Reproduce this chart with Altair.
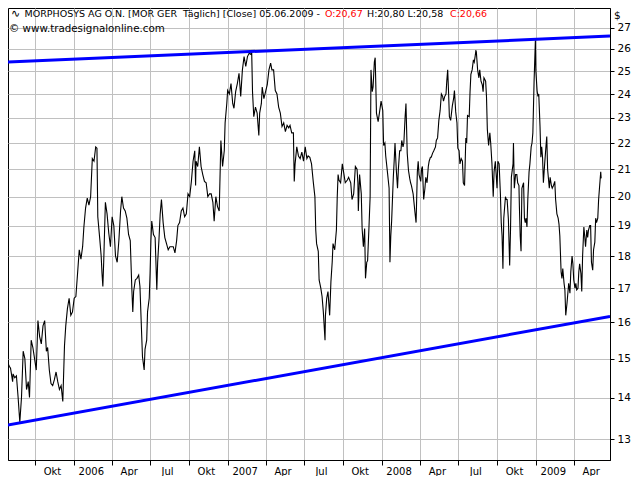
import altair as alt
import pandas as pd

START = pd.Timestamp("2005-07-28")

# ---- daily close (days since START, close in $) ----
days_a = [2, 4, 7, 12, 13, 17, 21, 25, 29, 33,
          37, 41, 45, 49, 52, 56, 60, 64, 68, 72,
          76, 80, 84, 88, 92, 95, 99, 103, 107, 111,
          115, 119, 123, 127, 131, 135, 138, 142, 146, 150,
          154, 158, 162, 166, 170, 174, 178, 181, 185, 189,
          193, 197, 201, 205, 209, 212, 214, 219, 222, 224,
          226, 228, 232, 236, 240, 244, 248, 252, 256, 260,
          264, 268, 271, 275, 279, 283, 287, 291, 295, 297,
          299, 303, 307, 311, 314, 317, 320, 324, 326, 330,
          332, 336, 338, 340, 342, 346, 350, 354, 356, 359,
          362, 365, 369, 373, 377, 381, 385, 389, 393, 397,
          401, 404, 408, 412, 416, 420, 424, 428, 432, 436,
          440, 444, 446, 447, 451, 455, 459, 463, 467, 471,
          475, 479, 483, 487, 490, 494, 498, 502, 506, 510,
          514]
closes_a = [14.85, 14.8, 14.75, 14.4, 14.6, 14.5, 14.55, 14.0, 13.4, 14.0,
            15.2, 15.0, 14.2, 14.4, 14.0, 15.5, 15.3, 15.0, 14.7, 16.05,
            15.6, 15.4, 15.9, 16.05, 15.2, 15.3, 14.7, 14.35, 14.3, 14.45,
            14.65, 14.4, 14.2, 14.3, 13.9, 15.35, 15.9, 16.4, 16.7, 16.2,
            16.3, 16.7, 16.75, 17.45, 18.2, 17.9, 18.3, 18.95, 19.6, 19.95,
            19.7, 20.0, 21.4, 21.3, 21.85, 21.8, 19.3, 18.5, 18.0, 17.45,
            17.05, 17.8, 19.8, 19.4, 18.75, 18.3, 19.3, 19.0, 18.0, 17.8,
            18.5, 19.5, 20.0, 19.6, 19.5, 19.25, 18.7, 18.5, 16.9, 16.3,
            16.9, 17.25, 17.3, 17.4, 17.05, 16.0, 15.05, 14.7, 15.25, 15.5,
            16.3, 16.7, 17.45, 18.5, 19.15, 18.7, 18.6, 16.95, 17.8, 18.5,
            19.4, 19.9, 19.1, 18.6, 18.4, 18.2, 18.3, 18.3, 18.3, 18.1,
            18.5, 19.0, 19.1, 19.5, 19.6, 19.3, 19.4, 20.1, 20.0, 20.55,
            21.3, 21.7, 20.4, 21.3, 21.1, 21.85, 21.1, 20.8, 20.55, 20.5,
            20.0, 20.1, 20.1, 19.8, 19.15, 20.0, 19.65, 19.5, 22.1, 21.1,
            21.7]

days_b = [516, 520, 522, 526, 530, 534, 537, 541, 545, 549,
          553, 557, 561, 565, 569, 573, 577, 579, 581, 584,
          588, 592, 596, 598, 602, 604, 608, 612, 616, 620,
          624, 627, 631, 635, 639, 643, 647, 651, 655, 659,
          663, 667, 670, 674, 678, 680, 682, 686, 690, 694,
          698, 702, 706, 710, 713, 717, 721, 725, 729, 731,
          733, 737, 739, 743, 746, 749, 753, 754, 757, 760,
          764, 767, 770, 772, 776, 780, 782, 784, 786, 790,
          794, 798, 801, 806, 809, 814, 817, 821, 825, 829]
closes_b = [22.8, 23.6, 24.15, 24.0, 24.45, 23.6, 23.4, 24.1, 24.45, 24.9,
            23.9, 25.05, 25.65, 25.2, 25.65, 25.8, 25.75, 25.9, 24.1, 23.05,
            23.45, 23.2, 22.3, 23.2, 23.6, 24.3, 23.8, 24.1, 24.4, 25.05,
            25.35, 25.05, 25.05, 24.15, 24.0, 23.45, 23.2, 22.65, 22.8, 22.45,
            22.7, 22.6, 22.7, 22.4, 22.4, 20.55, 21.2, 21.85, 21.5, 21.4,
            21.65, 21.3, 21.85, 21.4, 21.5, 21.45, 21.2, 20.55, 20.0, 18.85,
            18.4, 18.15, 17.25, 17.0, 16.75, 16.3, 15.5, 16.2, 16.7, 16.9,
            16.2, 17.2, 17.8, 18.4, 18.2, 18.85, 20.0, 20.8, 20.6, 20.5,
            21.2, 20.8, 20.5, 20.6, 20.7, 20.5, 19.9, 20.1, 21.1, 21.0]

days_c = [831, 832, 835, 839, 841, 844, 847, 849, 852, 854,
          857, 860, 862, 865, 867, 870, 872, 875, 879, 882,
          886, 890, 892, 895, 897, 901, 905, 907, 909, 911,
          915, 917, 919, 922, 925, 927, 930, 933, 935, 938,
          940, 943, 945, 948, 951, 954, 956, 958, 962, 964,
          966, 969, 972, 974, 976, 980, 982, 984, 987, 990,
          992, 995, 998, 1000, 1003, 1005, 1008, 1011, 1015, 1017,
          1020, 1023, 1026, 1029, 1032, 1034, 1037, 1040, 1042, 1044,
          1046, 1048, 1051, 1055, 1058, 1060, 1063, 1066, 1068, 1071,
          1073, 1076, 1079, 1081, 1084, 1087, 1089, 1091, 1095, 1097,
          1099, 1102, 1105, 1107, 1109, 1111, 1112, 1115, 1118, 1120,
          1123, 1126, 1128, 1130, 1134, 1136, 1138, 1141, 1144, 1146,
          1149, 1152, 1154, 1157]
closes_c = [20.5, 19.5, 20.8, 20.1, 18.9, 18.3, 18.9, 17.3, 17.8, 17.85,
            18.85, 20.0, 25.05, 24.1, 24.3, 25.4, 25.6, 23.2, 22.85, 23.2,
            23.7, 23.3, 21.9, 22.0, 21.5, 20.9, 20.3, 17.8, 18.65, 19.15,
            20.7, 21.3, 22.0, 21.0, 20.3, 21.0, 21.7, 21.7, 22.1, 21.85,
            22.0, 23.05, 23.6, 21.6, 20.95, 20.65, 20.5, 20.4, 20.1, 19.8,
            19.5, 19.1, 20.9, 21.3, 20.8, 20.55, 21.0, 21.1, 19.9, 20.3,
            20.7, 20.5, 21.1, 21.3, 21.45, 21.45, 21.6, 21.7, 21.85, 22.1,
            22.2, 22.9, 23.3, 24.0, 23.9, 23.7, 23.9, 24.0, 24.6, 25.05,
            24.1, 23.05, 22.9, 23.5, 23.8, 24.15, 23.25, 22.8, 21.8, 21.7,
            21.2, 21.4, 21.3, 20.5, 20.4, 22.2, 22.0, 23.1, 23.05, 24.1,
            24.85, 25.05, 25.5, 25.4, 25.65, 25.95, 25.85, 25.05, 24.7, 25.05,
            24.55, 24.4, 24.1, 24.7, 24.55, 23.9, 22.55, 21.9, 22.4, 22.0,
            21.2, 20.0, 20.9, 21.3]

days_d = [1161, 1163, 1166, 1169, 1171, 1173, 1175, 1177, 1181, 1183,
          1185, 1188, 1191, 1193, 1195, 1199, 1200, 1202, 1205, 1208,
          1210, 1213, 1214, 1216, 1218, 1220, 1224, 1226, 1228, 1230,
          1232, 1234, 1237, 1239, 1242, 1244, 1246, 1249, 1252, 1253,
          1256, 1258, 1260, 1263, 1265, 1267, 1269, 1271, 1274, 1277,
          1279, 1281, 1285, 1287, 1290, 1292, 1295, 1298, 1300, 1303,
          1306, 1308, 1310, 1313, 1315, 1317, 1320, 1322, 1324, 1327,
          1329, 1331, 1334, 1336, 1339, 1341, 1343, 1346, 1348, 1350,
          1353, 1355, 1357, 1360, 1362, 1364, 1367, 1369, 1371, 1374,
          1376, 1378, 1381, 1383, 1385, 1388, 1390, 1393, 1395, 1397,
          1400, 1402, 1404, 1407, 1408]
closes_d = [20.3, 21.3, 21.2, 20.1, 19.1, 18.65, 17.6, 19.25, 20.0, 19.9,
            19.9, 19.2, 17.7, 18.85, 20.7, 21.2, 22.0, 20.3, 20.8, 20.8,
            20.5, 20.4, 19.7, 18.65, 18.15, 20.3, 20.5, 19.25, 19.1, 19.25,
            18.95, 19.9, 20.9, 21.2, 21.85, 22.0, 22.4, 24.6, 26.4, 25.05,
            24.15, 23.9, 24.0, 22.65, 21.45, 21.85, 21.45, 20.5, 21.2, 21.85,
            22.25, 21.0, 20.3, 20.7, 20.4, 20.3, 20.4, 20.55, 19.9, 19.4,
            19.25, 19.05, 18.65, 17.5, 17.3, 17.6, 17.15, 16.95, 16.2, 16.55,
            16.85, 17.15, 16.85, 17.5, 18.0, 17.75, 17.25, 17.0, 17.15, 16.95,
            17.0, 17.5, 17.75, 17.45, 16.9, 18.0, 18.95, 18.65, 18.3, 18.85,
            18.6, 18.85, 19.0, 19.0, 17.8, 17.55, 18.2, 18.45, 19.25, 19.1,
            19.25, 19.9, 20.3, 20.9, 20.66]

# ---- trend lines (two end points each) ----
trend_days = [0, 1429]
upper_trend = [25.4, 26.6]
lower_trend = [13.33, 16.17]

# ---- axes ----
y_ticks = list(range(13, 28))
quarter_ticks = [(2005, 10), (2006, 1), (2006, 4), (2006, 7), (2006, 10),
                 (2007, 1), (2007, 4), (2007, 7), (2007, 10),
                 (2008, 1), (2008, 4), (2008, 7), (2008, 10),
                 (2009, 1), (2009, 4)]
title_prefix = "MORPHOSYS AG O.N. [MOR GER\u00a0 Täglich] [Close] 05.06.2009 -"
title_open = "O:20,67"
title_hl = "H:20,80 L:20,58"
title_close = "C:20,66"
copyright_text = "© www.tradesignalonline.com"

FONT = "DejaVu Sans"

days = days_a + days_b + days_c + days_d
closes = closes_a + closes_b + closes_c + closes_d
assert len(days) == len(closes)


def to_dates(d):
    return (START + pd.to_timedelta(d, unit="D")).strftime("%Y-%m-%d")


price = pd.DataFrame({"date": to_dates(days), "close": closes})
trend = pd.concat([
    pd.DataFrame({"date": to_dates(trend_days), "close": upper_trend, "line": "upper"}),
    pd.DataFrame({"date": to_dates(trend_days), "close": lower_trend, "line": "lower"}),
])

W, H = 602, 452

x_scale = alt.Scale(type="utc",
                    domain=[alt.DateTime(year=2005, month=7, date=29, utc=True),
                            alt.DateTime(year=2009, month=6, date=26, utc=True)])
y_scale = alt.Scale(type="log", domain=[12.53, 27.96], nice=False)

x_axis = alt.Axis(
    values=[alt.DateTime(year=y, month=m, date=1, utc=True) for y, m in quarter_ticks],
    labelExpr="utcmonth(datum.value) == 0 ? utcFormat(datum.value, '%Y') : "
              "(utcmonth(datum.value) == 3 ? 'Apr' : (utcmonth(datum.value) == 6 ? 'Jul' : 'Okt'))",
    title=None, orient="bottom", grid=True, gridColor="#c0c0c0", gridWidth=1,
    tickSize=5, tickColor="black", domainColor="black", labelAlign="center",
    labelOffset=17, labelPadding=1, labelFont=FONT, labelFontSize=10,
    labelColor="black", labelFlush=False, labelOverlap=False,
)
y_axis = alt.Axis(
    values=y_ticks, title=None, orient="right", grid=True, gridColor="#c0c0c0",
    gridWidth=1, tickSize=4, tickColor="black", domainColor="black",
    labelPadding=3, labelFont=FONT, labelFontSize=10.5, labelColor="black",
    labelFlush=False, labelOverlap=False, format="d",
)

x_enc = alt.X("date:T", scale=x_scale, axis=x_axis)
y_enc = alt.Y("close:Q", scale=y_scale, axis=y_axis)

price_line = alt.Chart(price).mark_line(color="black", strokeWidth=1.1, clip=True).encode(
    x=x_enc, y=y_enc)

trend_lines = alt.Chart(trend).mark_line(color="#0000ff", strokeWidth=3, clip=True).encode(
    x=x_enc, y=y_enc, detail="line:N")


def label(text, x, y, color="black", align="left", size=9.5):
    return alt.Chart(pd.DataFrame({"t": [text]})).mark_text(
        font=FONT, fontSize=size, color=color, align=align, baseline="top"
    ).encode(text="t:N", x=alt.value(x), y=alt.value(y))


chart = alt.layer(
    price_line,
    trend_lines,
    label("∿", 3, 0, size=11),
    label(title_prefix, 312, 1, align="right"),
    label(title_open, 317, 1, color="#ff0000"),
    label(title_hl, 359, 1),
    label(title_close, 442, 1, color="#ff0000"),
    label(copyright_text, 1, 16, size=10.3),
    label("$", 606, 3, size=10.5),
).properties(width=W, height=H, padding=0, background="white").configure_view(
    stroke="black", strokeWidth=1
)

chart.save("out.html", embed_options={"renderer": "svg", "actions": False})
